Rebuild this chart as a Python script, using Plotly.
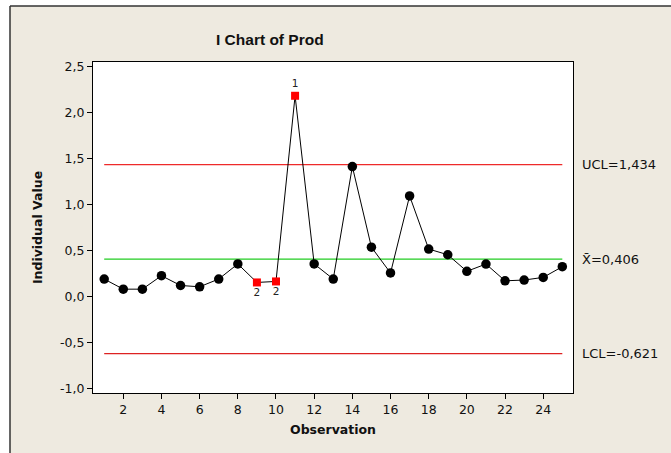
import plotly.graph_objects as go

observation = list(range(1, 26))
values = [0.19, 0.08, 0.08, 0.226, 0.12, 0.106, 0.19, 0.354, 0.153, 0.164,
          2.181, 0.354, 0.19, 1.412, 0.536, 0.256, 1.093, 0.516, 0.454, 0.274,
          0.353, 0.171, 0.179, 0.208, 0.324]
flags = {9: "2", 10: "2", 11: "1"}
ucl, center, lcl = 1.434, 0.406, -0.621
limit_labels = ["UCL=1,434", "X\u0304=0,406", "LCL=-0,621"]
x_ticks = list(range(2, 25, 2))
y_ticks = [-1.0, -0.5, 0.0, 0.5, 1.0, 1.5, 2.0, 2.5]
y_ticktext = [f"{v:.1f}".replace(".", ",") for v in y_ticks]

FONT = "DejaVu Sans"
BEIGE = "#EEEAE0"
TXT = "#111"

symbols = ["square" if o in flags else "circle" for o in observation]
colors = ["#FF0000" if o in flags else "#000000" for o in observation]
sizes = [8 if o in flags else 9.5 for o in observation]
texts = [flags.get(o, "") for o in observation]
tpos = ["top center" if flags.get(o) == "1" else "bottom center" for o in observation]

fig = go.Figure()
for val, col in [(ucl, "#EE2A2A"), (center, "#22CC22"), (lcl, "#DD2222")]:
    fig.add_trace(go.Scatter(x=[1, 25], y=[val, val], mode="lines",
                             line=dict(color=col, width=1.2), hoverinfo="skip",
                             showlegend=False))
fig.add_trace(go.Scatter(
    x=observation, y=values, mode="lines+markers+text",
    line=dict(color="black", width=1),
    marker=dict(symbol=symbols, color=colors, size=sizes, opacity=1,
                line=dict(width=0)),
    text=texts, textposition=tpos,
    textfont=dict(family=FONT, size=10.5, color="#222"),
    showlegend=False))

for val, lab in zip([ucl, center, lcl], limit_labels):
    fig.add_annotation(x=1.015, xref="paper", y=val, yref="y", text=lab,
                       showarrow=False, xanchor="left", yanchor="middle",
                       font=dict(family=FONT, size=13, color=TXT))

fig.add_annotation(x=(270 - 93) / 480, xref="paper", y=(393 - 39) / 331, yref="paper",
                   text="<b>I Chart of Prod</b>", showarrow=False,
                   xanchor="center", yanchor="middle",
                   font=dict(family="Liberation Sans", size=15.5, color=TXT))

shapes = [
    dict(type="rect", xref="paper", yref="paper", x0=-0.3, x1=1.4,
         y0=(393 - 6) / 331, y1=1.4, fillcolor="white", line=dict(width=0), layer="above"),
    dict(type="rect", xref="paper", yref="paper", x0=-0.3, x1=(10 - 93) / 480,
         y0=-0.4, y1=1.4, fillcolor="white", line=dict(width=0), layer="above"),
    dict(type="line", xref="paper", yref="paper", x0=(10 - 93) / 480, x1=1.4,
         y0=(393 - 6) / 331, y1=(393 - 6) / 331, line=dict(color="#333", width=1.5)),
    dict(type="line", xref="paper", yref="paper", x0=(10 - 93) / 480, x1=(10 - 93) / 480,
         y0=-0.4, y1=(393 - 6) / 331, line=dict(color="#333", width=1.5)),
]

fig.update_layout(
    width=671, height=453,
    margin=dict(l=93, r=98, t=62, b=60),
    paper_bgcolor=BEIGE, plot_bgcolor="white",
    separators=",.",
    shapes=shapes,
    font=dict(family=FONT, size=12, color=TXT),
)
fig.update_xaxes(range=[0.413, 25.56], tickvals=x_ticks, ticks="outside", ticklen=5,
                 tickcolor="black", showline=True, linecolor="black", linewidth=1,
                 mirror=True, showgrid=False, zeroline=False,
                 tickfont=dict(family=FONT, size=12.5, color=TXT),
                 title=dict(text="<b>Observation</b>", standoff=9,
                            font=dict(family=FONT, size=12.5, color=TXT)))
fig.update_yaxes(range=[-1.048, 2.548], tickvals=y_ticks, ticktext=y_ticktext,
                 ticks="outside", ticklen=5, tickcolor="black",
                 showline=True, linecolor="black", linewidth=1, mirror=True,
                 showgrid=False, zeroline=False,
                 tickfont=dict(family=FONT, size=12.5, color=TXT),
                 title=dict(text="<b>Individual Value</b>", standoff=14,
                            font=dict(family=FONT, size=12.5, color=TXT)))

fig.write_html("out.html", config={"displayModeBar": False},
               post_script="document.body.style.margin='0';document.body.style.overflow='hidden';")
